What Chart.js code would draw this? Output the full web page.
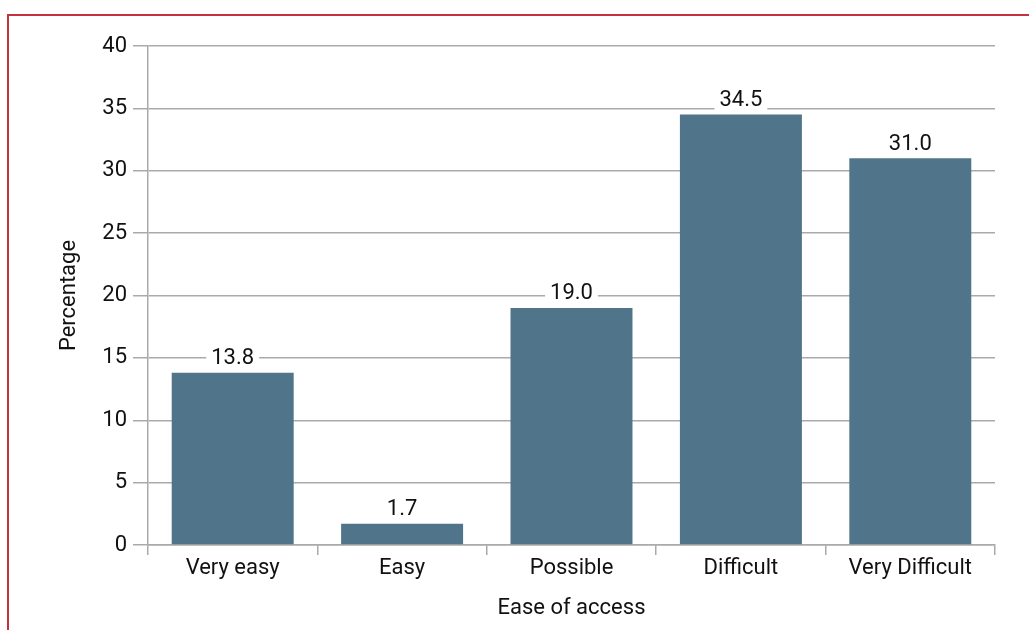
<!DOCTYPE html>
<html>
<head>
<meta charset="utf-8">
<script src="https://cdn.jsdelivr.net/npm/chart.js@4"></script>
<style>
  html, body { margin: 0; padding: 0; background: #fff; }
  #wrap { position: relative; width: 1029px; height: 630px; overflow: hidden; }
  #frame { position: absolute; left: 7px; top: 14px; width: 1100px; height: 700px;
           border-top: 2px solid #c4323d; border-left: 2px solid #c4323d; box-sizing: border-box; }
  canvas { position: absolute; left: 0; top: 0; }
</style>
</head>
<body>
<div id="wrap">
  <div id="frame"></div>
  <canvas id="myChart" width="1029" height="630"></canvas>
</div>
<script>
var categories = ["Very easy", "Easy", "Possible", "Difficult", "Very Difficult"];
var values = [13.8, 1.7, 19.0, 34.5, 31.0];
var yTicks = [0, 5, 10, 15, 20, 25, 30, 35, 40];

var fontFamily = "Roboto, 'Noto Sans', sans-serif";
var textColor = '#111';

// value labels on a white box, so the gridline stops around them
var valueLabels = {
    id: 'valueLabels',
    afterDatasetsDraw: function(chart) {
        var ctx = chart.ctx;
        var meta = chart.getDatasetMeta(0);
        ctx.save();
        ctx.font = '22px ' + fontFamily;
        ctx.textAlign = 'center';
        ctx.textBaseline = 'middle';
        meta.data.forEach(function(bar, i) {
            var txt = values[i].toFixed(1);
            var w = ctx.measureText(txt).width;
            var y = bar.y - 15;
            ctx.fillStyle = '#fff';
            ctx.fillRect(bar.x - w / 2 - 5, y - 11, w + 10, 22);
            ctx.fillStyle = textColor;
            ctx.fillText(txt, bar.x, y + 1);
        });
        ctx.restore();
    }
};

var ctx = document.getElementById("myChart").getContext('2d');
var myChart = new Chart(ctx, {
    type: 'bar',
    data: {
        labels: categories,
        datasets: [{
            data: values,
            backgroundColor: '#507489',
            borderWidth: 0,
            barPercentage: 0.72,
            categoryPercentage: 1.0
        }]
    },
    plugins: [valueLabels],
    options: {
        responsive: false,
        animation: false,
        plugins: {
            legend: { display: false },
            tooltip: { enabled: false }
        },
        layout: {
            padding: { left: 50, right: 34, top: 46, bottom: 0 }
        },
        scales: {
            x: {
                grid: {
                    offset: true,
                    drawOnChartArea: false,
                    drawTicks: true,
                    tickLength: 10,
                    color: '#aaa',
                    lineWidth: 1.5
                },
                border: { display: true, color: '#aaa', width: 1.5 },
                ticks: {
                    color: textColor,
                    font: { family: fontFamily, size: 22 },
                    padding: 0
                },
                title: {
                    display: true,
                    text: 'Ease of access',
                    color: textColor,
                    font: { family: fontFamily, size: 22 },
                    padding: { top: 0, bottom: 8 }
                },
                afterFit: function(scale) { scale.height = 85; }
            },
            y: {
                min: 0,
                max: 40,
                afterBuildTicks: function(scale) {
                    scale.ticks = yTicks.map(function(v) { return { value: v }; });
                },
                grid: {
                    color: '#aaa',
                    lineWidth: 1.5,
                    tickLength: 15
                },
                border: { display: true, color: '#aaa', width: 1.5 },
                ticks: {
                    color: textColor,
                    font: { family: fontFamily, size: 22 },
                    padding: 6
                },
                title: {
                    display: true,
                    text: 'Percentage',
                    color: textColor,
                    font: { family: fontFamily, size: 22 },
                    padding: { top: 6, bottom: 0 }
                },
                afterFit: function(scale) { scale.width = 98; }
            }
        }
    }
});
</script>
</body>
</html>
